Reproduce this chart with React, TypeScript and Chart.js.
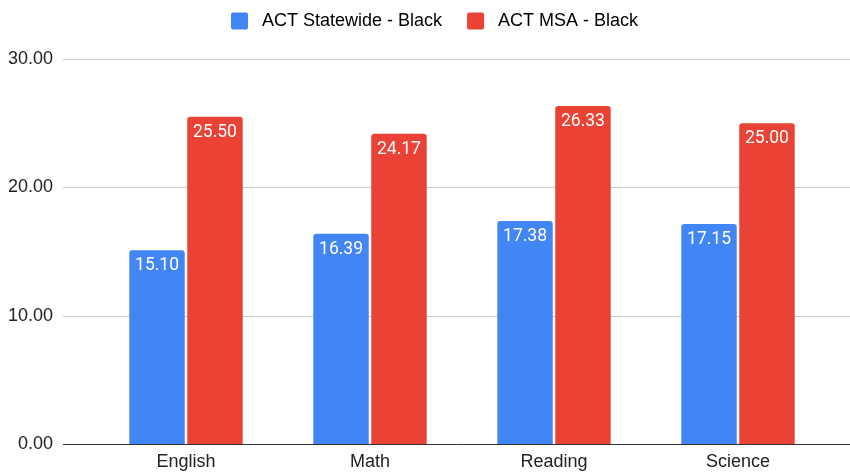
import React, { useEffect, useRef } from 'react';
import { Chart, registerables } from 'chart.js';

Chart.register(...registerables);

const categories = ['English', 'Math', 'Reading', 'Science'];
const seriesNames = ['ACT Statewide - Black', 'ACT MSA - Black'];
const statewide = [15.10, 16.39, 17.38, 17.15];
const msa = [25.50, 24.17, 26.33, 25.00];
const seriesColors = ['#4285F4', '#EA4335'];
const yMin = 0;
const yMax = 30;
const yStep = 10;

const AXIS_FONT = '"Liberation Sans", Arial, sans-serif';

function makeSwatch(color: string): HTMLCanvasElement {
  const c = document.createElement('canvas');
  c.width = 37;
  c.height = 18;
  const ctx = c.getContext('2d')!;
  ctx.fillStyle = color;
  ctx.beginPath();
  (ctx as any).roundRect(15, 0.5, 17, 17, 2);
  ctx.fill();
  return c;
}

const gridPlugin = {
  id: 'extGrid',
  beforeDatasetsDraw(chart: any) {
    const ctx = chart.ctx;
    const y = chart.scales.y;
    const x0 = chart.chartArea.left - 31;
    ctx.save();
    ctx.strokeStyle = '#cccccc';
    ctx.lineWidth = 1;
    y.ticks.forEach((t: any) => {
      if (t.value === yMin) return;
      const py = Math.round(y.getPixelForValue(t.value)) + 0.5;
      ctx.beginPath();
      ctx.moveTo(x0, py);
      ctx.lineTo(chart.width, py);
      ctx.stroke();
    });
    ctx.restore();
  },
  afterDatasetsDraw(chart: any) {
    const ctx = chart.ctx;
    const y = chart.scales.y;
    const x0 = chart.chartArea.left - 31;
    ctx.save();
    ctx.fillStyle = '#ffffff';
    ctx.font = '17.5px Roboto, "Noto Sans", sans-serif';
    ctx.textAlign = 'center';
    ctx.textBaseline = 'middle';
    chart.data.datasets.forEach((ds: any, di: number) => {
      const meta = chart.getDatasetMeta(di);
      meta.data.forEach((bar: any, i: number) => {
        const v = ds.data[i] as number;
        ctx.fillText(v.toFixed(2), bar.x, bar.y + 15.5);
      });
    });
    const py = Math.round(y.getPixelForValue(yMin)) + 0.5;
    ctx.strokeStyle = '#333333';
    ctx.lineWidth = 1;
    ctx.beginPath();
    ctx.moveTo(x0, py);
    ctx.lineTo(chart.width, py);
    ctx.stroke();
    ctx.restore();
  },
};

export default function App() {
  const ref = useRef<HTMLCanvasElement | null>(null);

  useEffect(() => {
    document.body.style.margin = '0';
    if (!ref.current) return;
    const swatches = seriesColors.map(makeSwatch);
    const barStyle = {
      borderWidth: 0,
      borderRadius: { topLeft: 3, topRight: 3, bottomLeft: 0, bottomRight: 0 },
      borderSkipped: 'start' as const,
      categoryPercentage: 0.63,
      barPercentage: 0.957,
    };
    const chart = new Chart(ref.current, {
      type: 'bar',
      data: {
        labels: categories,
        datasets: [
          { label: seriesNames[0], data: statewide, backgroundColor: seriesColors[0], yAxisID: 'y', ...barStyle },
          { label: seriesNames[1], data: msa, backgroundColor: seriesColors[1], yAxisID: 'y', ...barStyle },
        ],
      },
      options: {
        responsive: false,
        animation: false,
        layout: { padding: { top: 2, left: 4, right: 0, bottom: 0 } },
        plugins: {
          tooltip: { enabled: false },
          title: {
            display: true,
            text: '',
            position: 'top',
            weight: 500,
            padding: 0,
            font: { size: 19, lineHeight: 1 },
          } as any,
          legend: {
            display: true,
            position: 'top',
            align: 'center',
            labels: {
              usePointStyle: true,
              pointStyleWidth: 37,
              boxHeight: 18,
              boxWidth: 37,
              padding: 10,
              color: '#222222',
              font: { family: AXIS_FONT, size: 18 },
              generateLabels: (ch: any) =>
                ch.data.datasets.map((ds: any, i: number) => ({
                  text: ds.label,
                  fillStyle: seriesColors[i],
                  strokeStyle: seriesColors[i],
                  lineWidth: 0,
                  pointStyle: swatches[i],
                  hidden: false,
                  datasetIndex: i,
                })),
            },
          },
        },
        scales: {
          x: {
            type: 'category',
            offset: true,
            grid: { display: false, drawTicks: false },
            border: { display: false },
            ticks: {
              padding: 7,
              color: '#222222',
              font: { family: AXIS_FONT, size: 18 },
              maxRotation: 0,
            },
            afterFit: (s: any) => {
              s.height = 30;
              s.paddingLeft = 0;
              s.paddingRight = 0;
            },
          },
          y: {
            position: 'left',
            min: yMin,
            max: yMax,
            grid: { display: false, drawTicks: false },
            border: { display: false },
            ticks: {
              stepSize: yStep,
              padding: 41,
              color: '#222222',
              font: { family: AXIS_FONT, size: 18 },
              callback: (v: any) => Number(v).toFixed(2),
            },
            afterFit: (s: any) => {
              s.width = 90;
              s.paddingTop = 0;
              s.paddingBottom = 0;
            },
          },
          yRight: {
            type: 'linear',
            position: 'right',
            display: true,
            grid: { display: false, drawTicks: false },
            border: { display: false },
            ticks: { display: false },
            afterFit: (s: any) => {
              s.width = 20;
              s.paddingTop = 0;
              s.paddingBottom = 0;
            },
          },
        },
      },
      plugins: [gridPlugin],
    });
    return () => chart.destroy();
  }, []);

  return (
    <div style={{ width: 850, height: 474 }}>
      <canvas ref={ref} width={850} height={474} style={{ display: 'block' }} />
    </div>
  );
}
